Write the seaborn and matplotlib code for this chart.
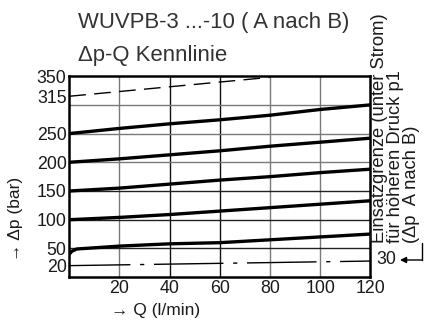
import matplotlib
matplotlib.use("Agg")
import matplotlib.pyplot as plt
import seaborn as sns
import pandas as pd

# flow Q (l/min) and pressure drop curves (bar)
q = [0, 20, 40, 60, 80, 100, 120]
dp_250 = [250, 259, 267, 274, 282, 292, 300]
dp_200 = [200, 206, 213, 220, 228, 235, 242]
dp_150 = [150, 155, 162, 169, 175, 182, 188]
dp_100 = [100, 104, 109, 115, 121, 127, 133]
q_50 = [0, 1, 3, 20, 40, 60, 80, 100, 120]
dp_50 = [40, 45, 49, 54, 58, 60, 65, 70, 75]

# upper limit (dashed) and lower limit (dash-dot)
q_upper = [0, 80]
dp_upper = [315, 348]
q_lower = [0, 120]
dp_lower = [20, 28]

y_ticks = [20, 50, 100, 150, 200, 250, 315, 350]
x_ticks = [20, 40, 60, 80, 100, 120]
v_grid = {20: '#7a7a7a', 40: '#111111', 60: '#111111', 80: '#7a7a7a', 100: '#7a7a7a'}
h_grid = {50: '#222222', 100: '#222222', 150: '#222222', 200: '#7a7a7a', 250: '#7a7a7a', 300: '#7a7a7a'}

sns.set_style("white")
plt.rcParams['font.family'] = ['Liberation Sans', 'DejaVu Sans']
txt = '#1a1a1a'

fig = plt.figure(figsize=(4.29, 3.2), dpi=100)
ax = fig.add_axes([0.1615, 0.134, 0.702, 0.628])

for x, c in v_grid.items():
    ax.axvline(x, color=c, lw=1.0, zorder=1)
for y, c in h_grid.items():
    ax.axhline(y, color=c, lw=1.0, zorder=1)

curves = [(q, dp_250), (q, dp_200), (q, dp_150), (q, dp_100), (q_50, dp_50)]
for xs, ys in curves:
    df = pd.DataFrame({'Q': xs, 'dp': ys})
    sns.lineplot(data=df, x='Q', y='dp', ax=ax, color='black', lw=2.4,
                 solid_capstyle='butt', zorder=3)

sns.lineplot(x=q_upper, y=dp_upper, ax=ax, color='black', lw=1.0,
             linestyle=(0, (12, 6)), zorder=3)
sns.lineplot(x=q_lower, y=dp_lower, ax=ax, color='black', lw=1.0,
             linestyle=(6, (50, 7, 3, 7)), zorder=3)

ax.set_xlim(0, 120)
ax.set_ylim(0, 350)
ax.set_xticks(x_ticks)
ax.set_yticks(y_ticks)
ax.tick_params(length=0, labelsize=12.8, labelcolor=txt, pad=2)
ax.set_xlabel('')
ax.set_ylabel('')
for s in ax.spines.values():
    s.set_color('black')
    s.set_linewidth(1.8)

fig.text(78 / 429, 1 - 28 / 320, 'WUVPB-3 ...-10 ( A nach B)', fontsize=15.9,
         color='#333333', ha='left', va='baseline')
fig.text(78 / 429, 1 - 61 / 320, '\u0394p-Q Kennlinie', fontsize=15.9,
         color='#333333', ha='left', va='baseline')

fig.text(156 / 429, 1 - 310 / 320, '\u2192 Q (l/min)', fontsize=12.5,
         color=txt, ha='center', va='center')
fig.text(15.5 / 429, 1 - 219 / 320, '\u2192 \u0394p (bar)', fontsize=12.5,
         color=txt, ha='center', va='center', rotation=90)

side = [(379, 'Einsatzgrenze (unter Strom)'),
        (395, 'f\u00fcr h\u00f6heren Druck p1'),
        (411, '(\u0394p  A nach B)')]
for xp, s in side:
    fig.text(xp / 429, 1 - 243 / 320, s, fontsize=13.2, color=txt,
             rotation=90, ha='center', va='bottom')

fig.text(386 / 429, 1 - 260 / 320, '30', fontsize=12.8, color=txt,
         ha='center', va='center')
ax.annotate('', xy=(400, 320 - 260), xycoords='figure pixels',
            xytext=(422, 320 - 260), textcoords='figure pixels',
            arrowprops=dict(arrowstyle='-|>', color='black', lw=1.0,
                            mutation_scale=9, shrinkA=0, shrinkB=0))
fig.add_artist(plt.Line2D([422 / 429, 422 / 429], [1 - 260 / 320, 1 - 243 / 320],
                          color='black', lw=1.0))

fig.savefig('out.png', dpi=100)
